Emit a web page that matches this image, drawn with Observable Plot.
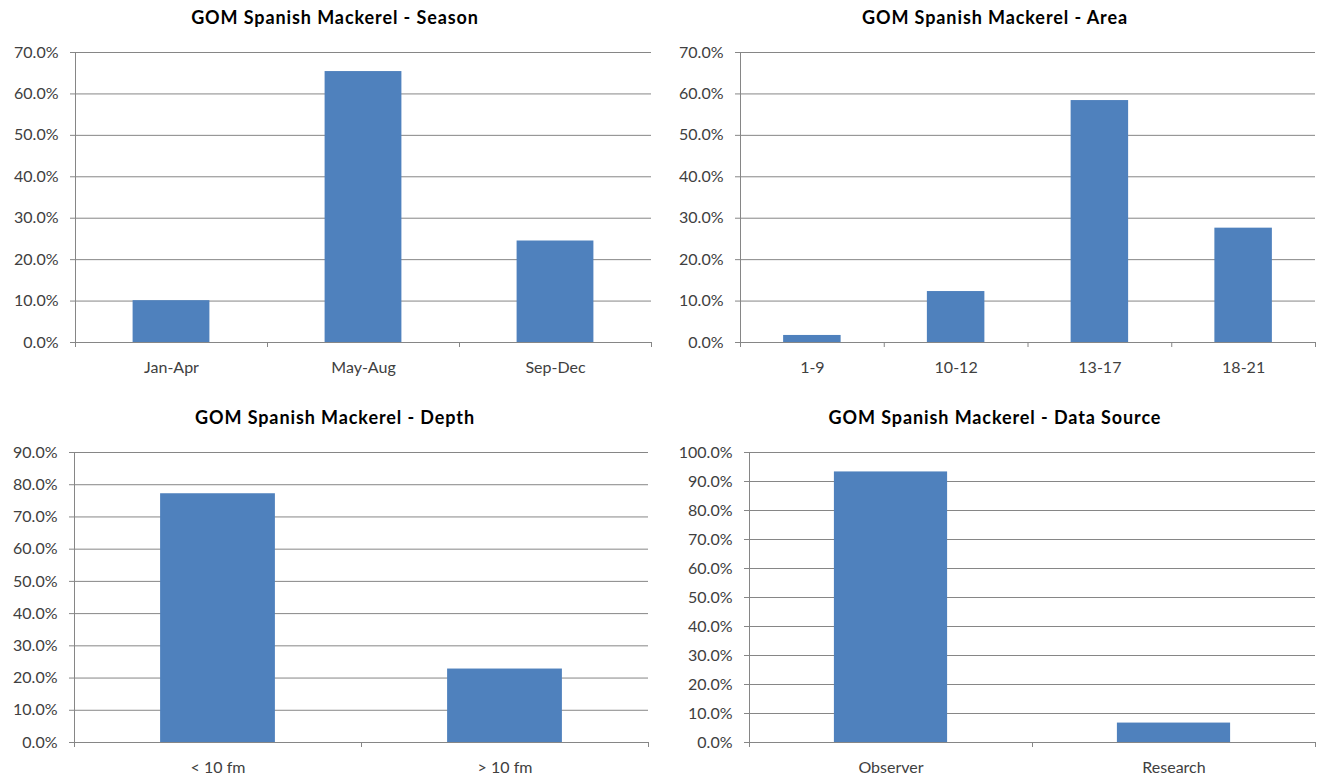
<!DOCTYPE html>
<html><head><meta charset="utf-8">
<script src="https://cdn.jsdelivr.net/npm/d3@7"></script>
<script src="https://cdn.jsdelivr.net/npm/@observablehq/plot@0.6"></script>
<style>
body{margin:0;background:#fff;width:1320px;height:780px;position:relative;overflow:hidden;font-family:Lato,"Open Sans",sans-serif}
.panel{position:absolute;width:660px;height:390px}
.title{font-weight:bold;font-size:18px;letter-spacing:0.9px;text-align:center;color:#000;padding-left:10px;box-sizing:border-box;width:660px;white-space:nowrap}
svg{overflow:visible;display:block}
</style></head><body>
<div id="p1" class="panel" style="left:0;top:0"></div>
<div id="p2" class="panel" style="left:660px;top:0"></div>
<div id="p3" class="panel" style="left:0;top:390px"></div>
<div id="p4" class="panel" style="left:660px;top:390px"></div>
<script>
// ---- data ----
const seasonCats = ["Jan-Apr", "May-Aug", "Sep-Dec"];
const seasonVals = [10.1, 65.4, 24.5];
const areaCats = ["1-9", "10-12", "13-17", "18-21"];
const areaVals = [1.7, 12.3, 58.4, 27.6];
const depthCats = ["< 10 fm", "> 10 fm"];
const depthVals = [77.2, 22.8];
const sourceCats = ["Observer", "Research"];
const sourceVals = [93.3, 6.7];
const titles = [
  "GOM Spanish Mackerel - Season",
  "GOM Spanish Mackerel - Area",
  "GOM Spanish Mackerel - Depth",
  "GOM Spanish Mackerel - Data Source"
];
const yMaxes = [70, 70, 90, 100];

// ---- layout ----
const layouts = [
  {id: "p1", th: 34, h: 356, ml: 75, mr: 9, mt: 18, mb: 48},
  {id: "p2", th: 34, h: 356, ml: 80, mr: 5, mt: 18, mb: 48},
  {id: "p3", th: 54, h: 336, ml: 74, mr: 12, mt: 8, mb: 38},
  {id: "p4", th: 54, h: 336, ml: 89, mr: 5, mt: 8, mb: 38}
];

const gridColor = "#868686";
const barColor = "#4F81BD";

function draw(geo, title, cats, vals, yMax) {
  const el = document.getElementById(geo.id);
  const t = document.createElement("div");
  t.className = "title";
  t.style.height = geo.th + "px";
  t.style.lineHeight = geo.th + "px";
  t.textContent = title;
  el.appendChild(t);
  const n = cats.length;
  const data = cats.map((c, i) => ({c, i, v: vals[i]}));
  const yTicks = d3.range(0, yMax + 0.001, 10);
  const plot = Plot.plot({
    width: 660, height: geo.h,
    marginLeft: geo.ml, marginRight: geo.mr, marginTop: geo.mt, marginBottom: geo.mb,
    style: {fontFamily: "Lato, 'Open Sans', sans-serif", fontSize: "16px", color: "#404040", background: "white", overflow: "visible"},
    x: {type: "linear", domain: [0, n]},
    y: {domain: [0, yMax]},
    marks: [
      Plot.gridY(yTicks, {stroke: gridColor, strokeOpacity: 1}),
      Plot.rectY(data, {x1: d => d.i + 0.3, x2: d => d.i + 0.7, y1: 0, y2: "v", fill: barColor}),
      Plot.ruleX([0], {stroke: gridColor}),
      Plot.ruleY([0], {stroke: gridColor}),
      Plot.axisY({ticks: yTicks, tickSize: 5, tickPadding: 12, tickFormat: d => d.toFixed(1) + "%", stroke: gridColor, label: null}),
      Plot.axisX({ticks: d3.range(0, n + 1), tickSize: 5, tickFormat: () => "", stroke: gridColor, label: null}),
      Plot.axisX({ticks: data.map(d => d.i + 0.5), tickSize: 0, tickPadding: 19, tickFormat: v => cats[Math.floor(v)], label: null})
    ]
  });
  el.appendChild(plot);
}

draw(layouts[0], titles[0], seasonCats, seasonVals, yMaxes[0]);
draw(layouts[1], titles[1], areaCats, areaVals, yMaxes[1]);
draw(layouts[2], titles[2], depthCats, depthVals, yMaxes[2]);
draw(layouts[3], titles[3], sourceCats, sourceVals, yMaxes[3]);
</script>
</body></html>
